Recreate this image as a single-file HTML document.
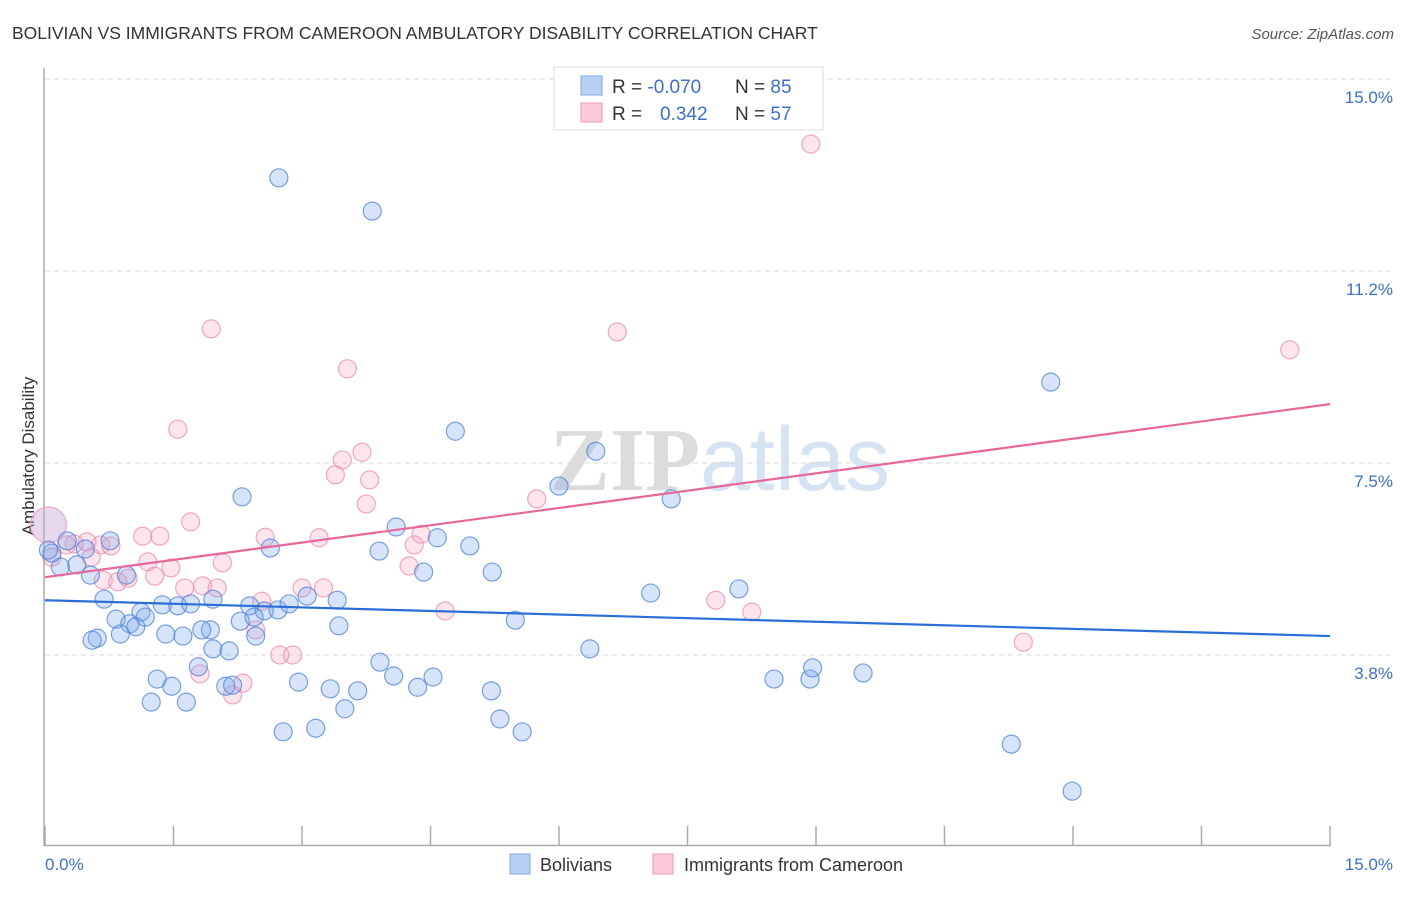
<!DOCTYPE html>
<html><head><meta charset="utf-8"><style>
body{margin:0;background:#fff;font-family:"Liberation Sans",sans-serif;}
svg text{font-family:"Liberation Sans",sans-serif;}
</style></head><body>
<svg id="chart" width="1406" height="892" viewBox="0 0 1406 892" xmlns="http://www.w3.org/2000/svg">
<text x="12" y="39" font-size="17.5" fill="#333">BOLIVIAN VS IMMIGRANTS FROM CAMEROON AMBULATORY DISABILITY CORRELATION CHART</text>
<text x="1394" y="39" font-size="15" fill="#555" text-anchor="end" font-style="italic">Source: ZipAtlas.com</text>
<text x="720" y="490" font-size="90" fill="#e4e4e4" text-anchor="middle"><tspan font-weight="bold" fill="#dcdcdc" font-family="Liberation Serif">ZIP</tspan><tspan fill="#d5e3f3">atlas</tspan></text>
<g id="grid"></g>
<g id="axes"></g>
<text transform="translate(34,456) rotate(-90)" font-size="17" fill="#333" text-anchor="middle">Ambulatory Disability</text>
<g id="pts"></g>
<g id="lines"></g>
<g>
<rect x="554" y="67" width="269" height="63" fill="#fff" stroke="#ddd"/>
<rect x="581" y="76" width="21" height="19" fill="#b8d1f3" stroke="#7ea7e6"/>
<rect x="581" y="103" width="21" height="19" fill="#fbc8d8" stroke="#ef9ab6"/>
<text x="612" y="93" font-size="19" fill="#333">R = <tspan fill="#3a6fd0">-0.070</tspan><tspan x="735">N = </tspan><tspan fill="#3a6fd0">85</tspan></text>
<text x="612" y="120" font-size="19" fill="#333">R = <tspan x="660" fill="#3a6fd0">0.342</tspan><tspan x="735">N = </tspan><tspan fill="#3a6fd0">57</tspan></text>
</g>
<g>
<rect x="510" y="854" width="20" height="20" fill="#b8d1f3" stroke="#7ea7e6"/>
<text x="540" y="871" font-size="18" fill="#333">Bolivians</text>
<rect x="653" y="854" width="20" height="20" fill="#fbc8d8" stroke="#ef9ab6"/>
<text x="684" y="871" font-size="18" fill="#333">Immigrants from Cameroon</text>
</g>
</svg>
<script>
const yTicks=[3.8,7.5,11.2,15.0];
const yTickVals=[3.75,7.5,11.25,15.0];
const xTickLabels=["0.0%","15.0%"];
const blueX=[2.73,3.82,11.74,4.79,6.43,6.00,7.31,2.30,4.10,4.58,4.96,3.90,2.63,5.22,4.42,0.76,0.26,0.47,0.37,0.18,0.08,0.53,0.95,0.69,1.12,1.17,0.83,0.99,1.06,1.37,1.55,1.70,1.96,2.39,2.56,2.72,2.85,3.06,3.41,3.43,2.28,2.46,1.93,1.83,1.61,1.41,0.88,0.61,0.55,5.49,7.07,8.10,6.36,1.96,2.15,1.79,3.91,4.53,4.07,4.35,1.31,1.48,2.11,2.19,2.96,3.33,3.65,5.21,1.24,1.65,3.50,5.31,5.57,2.78,3.16,8.51,8.93,8.96,9.55,11.28,11.99,2.44,0.04];
const blueY=[13.07,12.42,9.08,8.12,7.73,7.05,6.80,6.84,6.25,6.04,5.88,5.78,5.84,5.37,5.37,5.98,5.98,5.82,5.51,5.47,5.74,5.31,5.31,4.84,4.59,4.49,4.45,4.36,4.30,4.73,4.71,4.75,4.84,4.71,4.61,4.63,4.75,4.90,4.82,4.32,4.41,4.12,4.24,4.24,4.12,4.16,4.16,4.08,4.04,4.43,4.96,5.04,3.87,3.87,3.83,3.52,3.61,3.32,3.34,3.12,3.28,3.14,3.14,3.16,3.22,3.09,3.05,3.05,2.83,2.83,2.70,2.50,2.25,2.25,2.32,3.28,3.28,3.50,3.40,2.01,1.09,4.49,5.80];
const pinkX=[8.94,1.94,6.68,14.53,3.53,1.55,3.70,3.47,3.39,3.79,3.75,5.74,1.70,1.14,1.34,2.57,3.20,4.39,4.31,0.65,0.77,0.54,1.20,2.07,1.47,4.25,0.68,0.97,0.85,1.28,1.63,1.84,2.01,2.53,3.00,3.25,4.67,7.83,8.25,11.42,2.46,2.74,2.89,1.81,2.31,2.19,0.08,0.49,0.34,0.25];
const pinkY=[13.73,10.12,10.06,9.71,9.34,8.16,7.71,7.56,7.27,7.17,6.70,6.80,6.35,6.07,6.07,6.05,6.04,6.11,5.90,5.90,5.88,5.66,5.57,5.55,5.45,5.49,5.21,5.25,5.18,5.29,5.06,5.10,5.06,4.80,5.06,5.06,4.61,4.82,4.59,4.00,4.24,3.75,3.75,3.38,3.20,2.97,5.66,5.96,5.92,5.90];
const bigX=[0.04],bigY=[6.29];
const blueTrend=[4.82,4.12];
const pinkTrend=[5.27,8.65];
const X0=45,X1=1330,Y0=847,PXPER=192/3.75;
const sx=v=>X0+(X1-X0)*v/15;
const sy=v=>Y0-v*PXPER;
const NS="http://www.w3.org/2000/svg";
function mk(tag,attrs,parent){const e=document.createElementNS(NS,tag);for(const k in attrs)e.setAttribute(k,attrs[k]);parent.appendChild(e);return e;}
const grid=document.getElementById('grid'),axes=document.getElementById('axes'),pts=document.getElementById('pts'),lines=document.getElementById('lines');
yTickVals.forEach((v,i)=>{
 const l=mk('line',{x1:45,x2:1392,y1:sy(v),y2:sy(v),stroke:'#d8d8d8','stroke-dasharray':'5,4'},grid);
 
 
 const t=mk('text',{x:1393,y:sy(v)+24,'font-size':17,fill:'#3a6fd0','text-anchor':'end'},grid);
 t.textContent=yTicks[i].toFixed(1)+'%';
 
 
});
mk('line',{x1:44,x2:44,y1:68,y2:846,stroke:'#aaa','stroke-width':1.5},axes);
mk('line',{x1:44,x2:1331,y1:845.5,y2:845.5,stroke:'#aaa','stroke-width':1.5},axes);
for(let i=0;i<=10;i++){const x=sx(i*1.5);const t=mk('line',{x1:x,x2:x,y1:826,y2:846,stroke:'#aaa','stroke-width':1.5},axes);
 
 }
const xl0=mk('text',{x:45,y:870,'font-size':17,fill:'#3a6fd0'},axes);xl0.textContent=xTickLabels[0];


const xl1=mk('text',{x:1393,y:870,'font-size':17,fill:'#3a6fd0','text-anchor':'end'},axes);xl1.textContent=xTickLabels[1];


function dots(xs,ys,fill,stroke,name,r){xs.forEach((x,i)=>{const c=mk('circle',{cx:sx(x),cy:sy(ys[i]),r:r,fill:fill,stroke:stroke,'stroke-width':1.2},pts);
 
 });}
dots(bigX,bigY,'rgba(200,170,210,0.45)','rgba(235,150,180,0.8)','point-cameroon-large',18);
dots(pinkX,pinkY,'rgba(246,170,195,0.3)','rgba(236,140,172,0.75)','point-cameroon',9);
dots(blueX,blueY,'rgba(120,165,235,0.3)','rgba(80,130,215,0.75)','point-bolivian',9);
const bl=mk('line',{x1:sx(0),y1:sy(blueTrend[0]),x2:sx(15),y2:sy(blueTrend[1]),stroke:'#2b6ed8','stroke-width':2.2},lines);


const pl=mk('line',{x1:sx(0),y1:sy(pinkTrend[0]),x2:sx(15),y2:sy(pinkTrend[1]),stroke:'#e8679a','stroke-width':2.2},lines);


</script>
</body></html>
